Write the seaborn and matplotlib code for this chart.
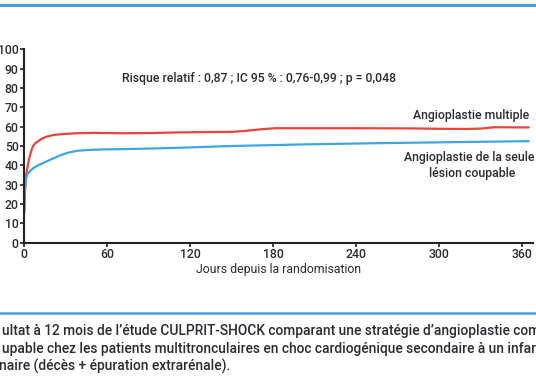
import numpy as np
import pandas as pd
import matplotlib
matplotlib.use("Agg")
import matplotlib.pyplot as plt
from matplotlib.lines import Line2D
import seaborn as sns

# days since randomisation and cumulative event rate (%)
days_multi = [0, 0.5, 1, 2, 4, 6, 8, 12, 16, 21, 28, 38, 50, 70, 90, 110, 130, 150, 160, 172, 182, 200, 240, 280, 300, 320, 330, 340, 365]
multi = [17, 27, 33, 38, 45, 49.5, 51.5, 53.5, 54.8, 55.7, 56.2, 56.6, 56.8, 56.6, 56.7, 57.0, 57.2, 57.3, 57.8, 58.7, 59.2, 59.2, 59.2, 59.1, 58.9, 58.8, 59.0, 59.7, 59.6]

days_single = [0, 0.5, 1, 2, 4, 7, 10, 14, 20, 26, 32, 38, 45, 55, 80, 113, 150, 200, 250, 300, 365]
single = [15, 27, 32, 35, 37, 38.8, 40, 41.3, 43.3, 45.2, 46.6, 47.5, 47.9, 48.2, 48.5, 49.1, 50.0, 50.8, 51.4, 51.9, 52.5]

xticks = [0, 60, 120, 180, 240, 300, 360]
yticks = list(range(0, 101, 10))

df = pd.concat([
    pd.DataFrame({"jours": days_multi, "taux": multi, "bras": "Angioplastie multiple"}),
    pd.DataFrame({"jours": days_single, "taux": single, "bras": "Angioplastie de la seule lésion coupable"}),
])

sns.set_style("ticks")
plt.rcParams["font.family"] = ["Roboto", "DejaVu Sans"]
plt.rcParams["font.weight"] = 500
txt = "#2b2b35"

fig = plt.figure(figsize=(5.36, 3.86), dpi=100)
ax = fig.add_axes([0.0453, 0.3712, 0.949, 0.5011])

sns.lineplot(data=df, x="jours", y="taux", hue="bras", ax=ax,
             palette={"Angioplastie multiple": "#e8433c",
                      "Angioplastie de la seule lésion coupable": "#3ea6e0"},
             linewidth=1.6, legend=False, estimator=None, sort=False)

ax.set_xlim(0, 368)
ax.set_ylim(0, 100)
ax.set_xticks(xticks)
ax.set_yticks(yticks)
ax.set_xlabel("Jours depuis la randomisation", fontsize=8.8, color=txt, labelpad=1)
ax.set_ylabel("")
ax.tick_params(axis="both", labelsize=8.8, colors=txt, length=3, width=1.2, pad=1)
ax.tick_params(axis="both", color="#222222")
for s in ["top", "right"]:
    ax.spines[s].set_visible(False)
for s in ["left", "bottom"]:
    ax.spines[s].set_linewidth(1.5)
    ax.spines[s].set_color("#222222")

ax.text(170, 85, "Risque relatif : 0,87 ; IC 95 % : 0,76-0,99 ; p = 0,048",
        fontsize=8.8, color=txt, ha="center", va="center")
ax.text(365, 66, "Angioplastie multiple", fontsize=8.8, color=txt, ha="right", va="center")
ax.text(369, 44, "Angioplastie de la seule", fontsize=8.8, color=txt, ha="right", va="center")
ax.text(324, 36, "lésion coupable", fontsize=8.8, color=txt, ha="center", va="center")

# decorative frame lines
fig.add_artist(Line2D([0, 1], [1 - 4.5 / 386] * 2, color="#4a9ee0", linewidth=2.2))
fig.add_artist(Line2D([0, 1], [1 - 312.5 / 386] * 2, color="#4a9ee0", linewidth=1.8))

caption = [
    "ultat à 12 mois de l’étude CULPRIT-SHOCK comparant une stratégie d’angioplastie complète",
    "upable chez les patients multitronculaires en choc cardiogénique secondaire à un infarctus",
    "naire (décès + épuration extrarénale).",
]
for i, line in enumerate(caption):
    fig.text(2 / 536 if i < 2 else -1 / 536, 1 - (331 + 17.5 * i) / 386, line,
             fontsize=9.9, color=txt, ha="left", va="center")

fig.savefig("out.png", dpi=100)
